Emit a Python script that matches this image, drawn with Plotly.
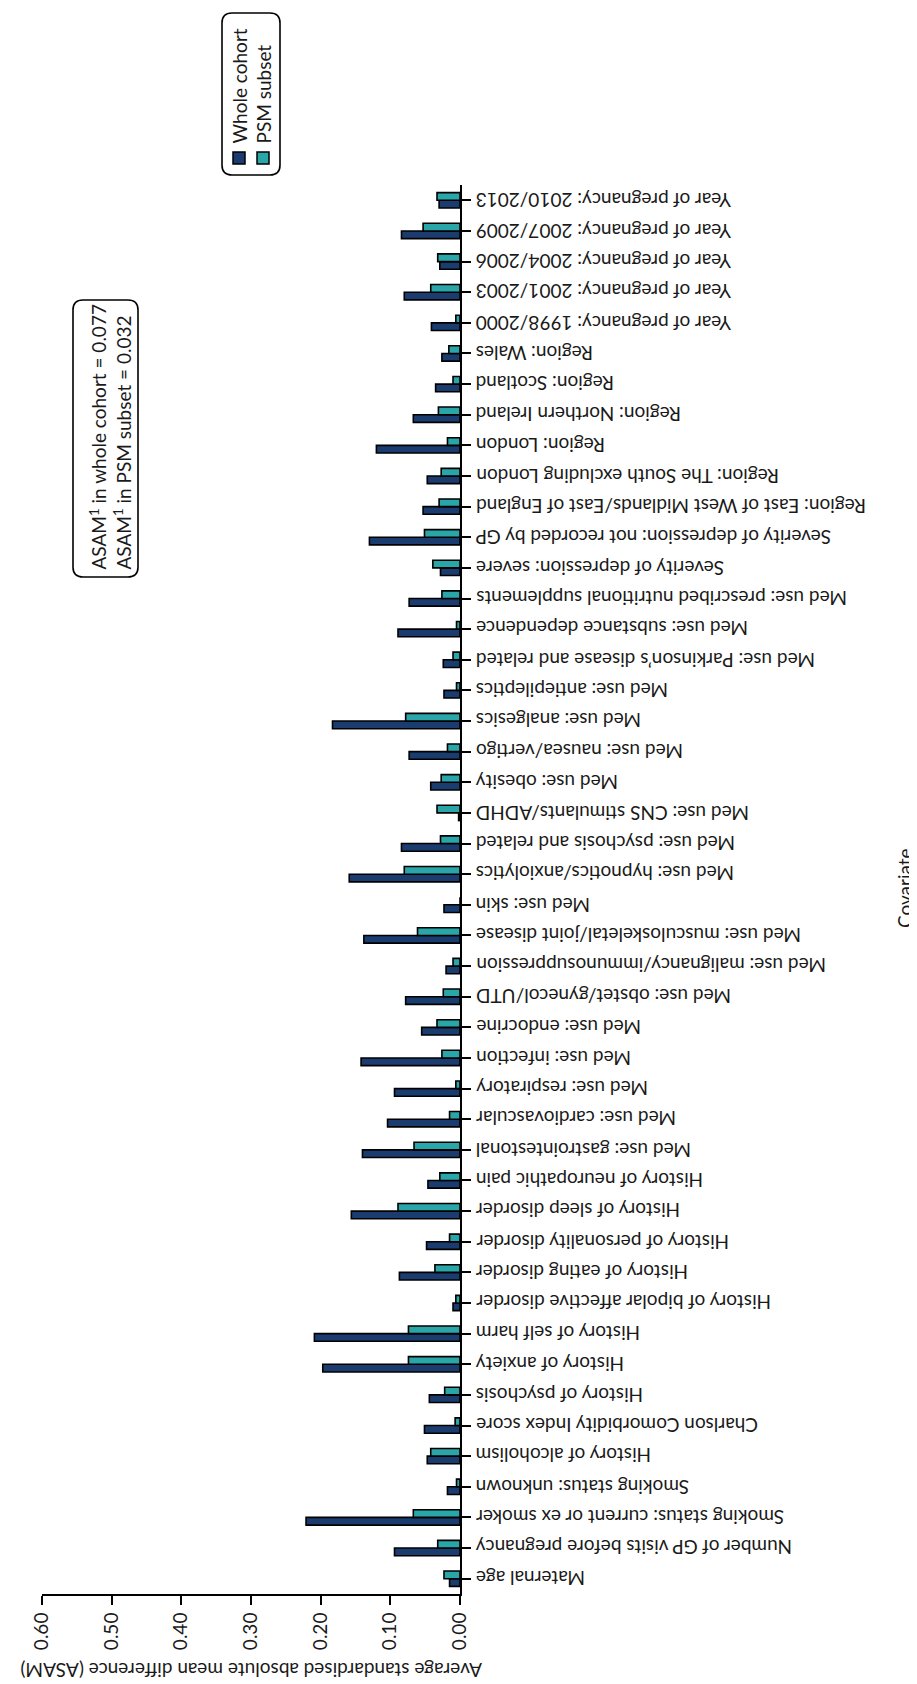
import plotly.graph_objects as go

categories = [
    "Maternal age",
    "Number of GP visits before pregnancy",
    "Smoking status: current or ex smoker",
    "Smoking status: unknown",
    "History of alcoholism",
    "Charlson Comorbidity Index score",
    "History of psychosis",
    "History of anxiety",
    "History of self harm",
    "History of bipolar affective disorder",
    "History of eating disorder",
    "History of personality disorder",
    "History of sleep disorder",
    "History of neuropathic pain",
    "Med use: gastrointestonal",
    "Med use: cardiovascular",
    "Med use: respiratory",
    "Med use: infection",
    "Med use: endocrine",
    "Med use: obstet/gynecol/UTD",
    "Med use: malignancy/immunosuppression",
    "Med use: musculoskeletal/joint disease",
    "Med use: skin",
    "Med use: hypnotics/anxiolytics",
    "Med use: psychosis and related",
    "Med use: CNS stimulants/ADHD",
    "Med use: obesity",
    "Med use: nausea/vertigo",
    "Med use: analgesics",
    "Med use: antiepileptics",
    "Med use: Parkinson\u2019s disease and related",
    "Med use: substance dependence",
    "Med use: prescribed nutritional supplements",
    "Severity of depression: severe",
    "Severity of depression: not recorded by GP",
    "Region: East of West Midlands/East of England",
    "Region: The South excluding London",
    "Region: London",
    "Region: Northern Ireland",
    "Region: Scotland",
    "Region: Wales",
    "Year of pregnancy: 1998/2000",
    "Year of pregnancy: 2001/2003",
    "Year of pregnancy: 2004/2006",
    "Year of pregnancy: 2007/2009",
    "Year of pregnancy: 2010/2013",
]

whole_cohort = [
    0.015, 0.094, 0.221, 0.018, 0.047, 0.051, 0.044, 0.197, 0.209, 0.010,
    0.087, 0.048, 0.156, 0.046, 0.140, 0.104, 0.094, 0.142, 0.055, 0.078,
    0.020, 0.138, 0.023, 0.159, 0.084, 0.002, 0.042, 0.073, 0.183, 0.023,
    0.024, 0.089, 0.073, 0.028, 0.130, 0.053, 0.047, 0.120, 0.067, 0.035,
    0.026, 0.041, 0.080, 0.029, 0.084, 0.030,
]

psm_subset = [
    0.023, 0.032, 0.067, 0.005, 0.042, 0.007, 0.022, 0.074, 0.074, 0.006,
    0.036, 0.015, 0.089, 0.029, 0.066, 0.015, 0.006, 0.026, 0.033, 0.024,
    0.010, 0.061, 0.000, 0.080, 0.028, 0.033, 0.027, 0.018, 0.078, 0.005,
    0.010, 0.005, 0.026, 0.039, 0.051, 0.030, 0.027, 0.018, 0.031, 0.010,
    0.016, 0.006, 0.042, 0.032, 0.053, 0.033,
]

series_names = ["Whole cohort", "PSM subset"]
x_ticks = [0.0, 0.1, 0.2, 0.3, 0.4, 0.5, 0.6]
x_tick_labels = ["0.00", "0.10", "0.20", "0.30", "0.40", "0.50", "0.60"]
x_title = "Average standardised absolute mean difference (ASAM)"
y_title = "Covariate"
asam_lines = ["ASAM<sup>1</sup> in whole cohort = 0.077",
              "ASAM<sup>1</sup> in PSM subset = 0.032"]

# page has an 8px body margin: size the figure so that it fills the window
OFF = 8
W, H = 917 - OFF, 1684 - OFF
PLOT_X0, PLOT_X1, PLOT_Y0, PLOT_Y1 = 42, 460, 185, 1594   # page pixels
L, T = PLOT_X0 - OFF, PLOT_Y0 - OFF
R, B = W - (PLOT_X1 - OFF), H - (PLOT_Y1 - OFF)
PW = W - L - R
PH = H - T - B


def px_x(px):
    return (px - OFF - L) / PW


def px_y(py):
    return (H - B - (py - OFF)) / PH


FONT = "Lato"
FS = 19
DARK = "#1b3c6e"
TEAL = "#2aa5a8"
INK = "#1a1a1a"


def rounded_rect(px0, py0, px1, py1, r):
    X0, X1 = px_x(px0), px_x(px1)
    Yt, Yb = px_y(py0), px_y(py1)
    rx, ry = r / PW, r / PH
    return (f"M {X0+rx},{Yt} L {X1-rx},{Yt} Q {X1},{Yt} {X1},{Yt-ry} "
            f"L {X1},{Yb+ry} Q {X1},{Yb} {X1-rx},{Yb} L {X0+rx},{Yb} "
            f"Q {X0},{Yb} {X0},{Yb+ry} L {X0},{Yt-ry} Q {X0},{Yt} {X0+rx},{Yt} Z")


fig = go.Figure()
fig.add_trace(go.Bar(y=categories, x=whole_cohort, orientation="h", name=series_names[0],
                     marker=dict(color=DARK, line=dict(color="black", width=1.6))))
fig.add_trace(go.Bar(y=categories, x=psm_subset, orientation="h", name=series_names[1],
                     marker=dict(color=TEAL, line=dict(color="black", width=1.6))))

fig.update_layout(
    width=W, height=H, barmode="group", bargap=0.5, bargroupgap=0,
    showlegend=False, plot_bgcolor="white", paper_bgcolor="white",
    margin=dict(l=L, r=R, t=T, b=B, autoexpand=False),
    font=dict(family=FONT, size=FS, color=INK),
)
fig.update_xaxes(range=[0.6, 0], tickvals=x_ticks, ticktext=x_tick_labels, tickangle=-90,
                 ticks="outside", ticklen=9, tickwidth=2, tickcolor="black",
                 showline=True, linewidth=2, linecolor="black", showgrid=False,
                 zeroline=False, tickfont=dict(family=FONT, size=FS, color=INK))
fig.update_yaxes(type="category", categoryorder="array", categoryarray=categories,
                 range=[-0.5, len(categories) - 0.5], side="right",
                 ticks="outside", ticklen=9, tickwidth=2, tickcolor="black",
                 showline=True, linewidth=2, linecolor="black", showticklabels=False,
                 showgrid=False, zeroline=False)

# category labels (upside down, as in the reference)
for c in categories:
    fig.add_annotation(x=px_x(474), xref="paper", y=c, yref="y", text=c, textangle=180,
                       xanchor="left", yanchor="middle", showarrow=False,
                       font=dict(family=FONT, size=FS, color=INK))

# axis titles
fig.add_annotation(x=px_x(251), y=px_y(1671), xref="paper", yref="paper", text=x_title,
                   textangle=180, xanchor="center", yanchor="middle", showarrow=False,
                   font=dict(family=FONT, size=FS, color=INK))
fig.add_annotation(x=px_x(905), y=px_y(888), xref="paper", yref="paper", text=y_title,
                   textangle=-90, xanchor="center", yanchor="middle", showarrow=False,
                   font=dict(family=FONT, size=FS, color=INK))

# legend
fig.add_shape(type="path", path=rounded_rect(222, 13, 280, 175, 10), xref="paper", yref="paper",
              line=dict(color="black", width=1.6), fillcolor="rgba(0,0,0,0)")
for (cx, col, name) in [(239, DARK, series_names[0]), (263, TEAL, series_names[1])]:
    fig.add_shape(type="rect", x0=px_x(cx - 6), x1=px_x(cx + 6), y0=px_y(164), y1=px_y(152),
                  xref="paper", yref="paper", fillcolor=col, line=dict(color="black", width=1.5))
    fig.add_annotation(x=px_x(cx), y=px_y(146), xref="paper", yref="paper", text=name,
                       textangle=-90, xanchor="center", yanchor="bottom", showarrow=False,
                       font=dict(family=FONT, size=FS, color=INK))

# ASAM box
fig.add_shape(type="path", path=rounded_rect(73, 300, 138, 577, 10), xref="paper", yref="paper",
              line=dict(color="black", width=1.6), fillcolor="rgba(0,0,0,0)")
fig.add_annotation(x=px_x(110), y=px_y(572), xref="paper", yref="paper",
                   text="<br>".join(asam_lines), textangle=-90, align="left",
                   xanchor="center", yanchor="bottom", showarrow=False,
                   font=dict(family=FONT, size=FS, color=INK))

fig.write_html("out.html")
